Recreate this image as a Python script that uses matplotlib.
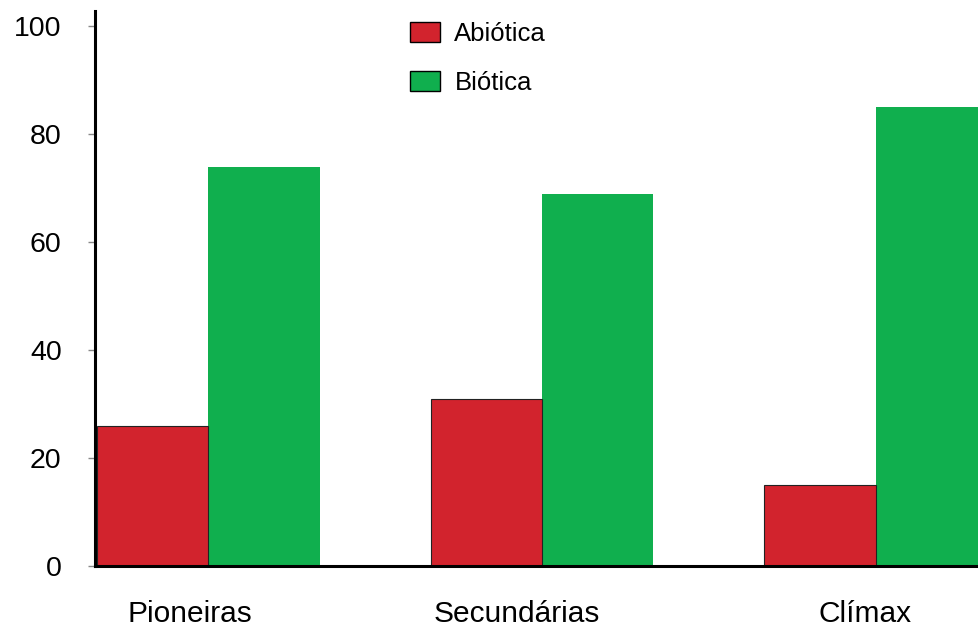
import matplotlib.pyplot as plt
import numpy as np

plt.rcParams["font.family"] = ["Liberation Sans", "DejaVu Sans"]

CATEGORIES = ["Pioneiras", "Secundárias", "Clímax"]
ABIOTICA = [26, 31, 15]
BIOTICA = [74, 69, 85]
Y_TICKS = [0, 20, 40, 60, 80, 100]

# labels sit a little off the group centres
LABEL_SHIFT = [-0.055, -0.077, -0.031]

RED = "#D2232D"
GREEN = "#10AF4E"


def main():
    fig = plt.figure(figsize=(9.79, 6.28), dpi=100)
    ax = fig.add_axes([0.097, 0.098, 0.903, 0.8845])

    x = np.arange(len(CATEGORIES))
    width = 1 / 3
    ax.bar(x - width / 2, ABIOTICA, width, color=RED, edgecolor="#222222",
           linewidth=0.8, label="Abiótica", zorder=2)
    ax.bar(x + width / 2, BIOTICA, width, color=GREEN, edgecolor="none",
           label="Biótica", zorder=1)

    ax.set_xlim(-0.34, 2.31)
    ax.set_ylim(0, 102.8)
    ax.set_yticks(Y_TICKS)
    ax.set_yticklabels([str(v) for v in Y_TICKS])
    ax.set_xticks(x + np.array(LABEL_SHIFT))
    ax.set_xticklabels(CATEGORIES)

    for side in ("top", "right"):
        ax.spines[side].set_visible(False)
    for side in ("left", "bottom"):
        ax.spines[side].set_linewidth(2.2)
        ax.spines[side].set_color("black")

    ax.tick_params(axis="y", length=5, width=1, color="#888888",
                   labelsize=20.5, pad=19)
    ax.tick_params(axis="x", length=0, labelsize=21.5, pad=24)

    # legend patches get a thin black outline, unlike the bars
    handles, labels = ax.get_legend_handles_labels()
    leg = fig.legend(handles, labels, loc="upper left",
                     bbox_to_anchor=(0.419, 0.965), frameon=False,
                     fontsize=18.5, handlelength=1.17, handleheight=0.78,
                     handletextpad=0.55, labelspacing=0.97, borderpad=0,
                     borderaxespad=0)
    for patch in leg.get_patches():
        patch.set_edgecolor("black")
        patch.set_linewidth(1.0)

    fig.savefig("out.png", dpi=100)
    plt.close(fig)


if __name__ == "__main__":
    main()
